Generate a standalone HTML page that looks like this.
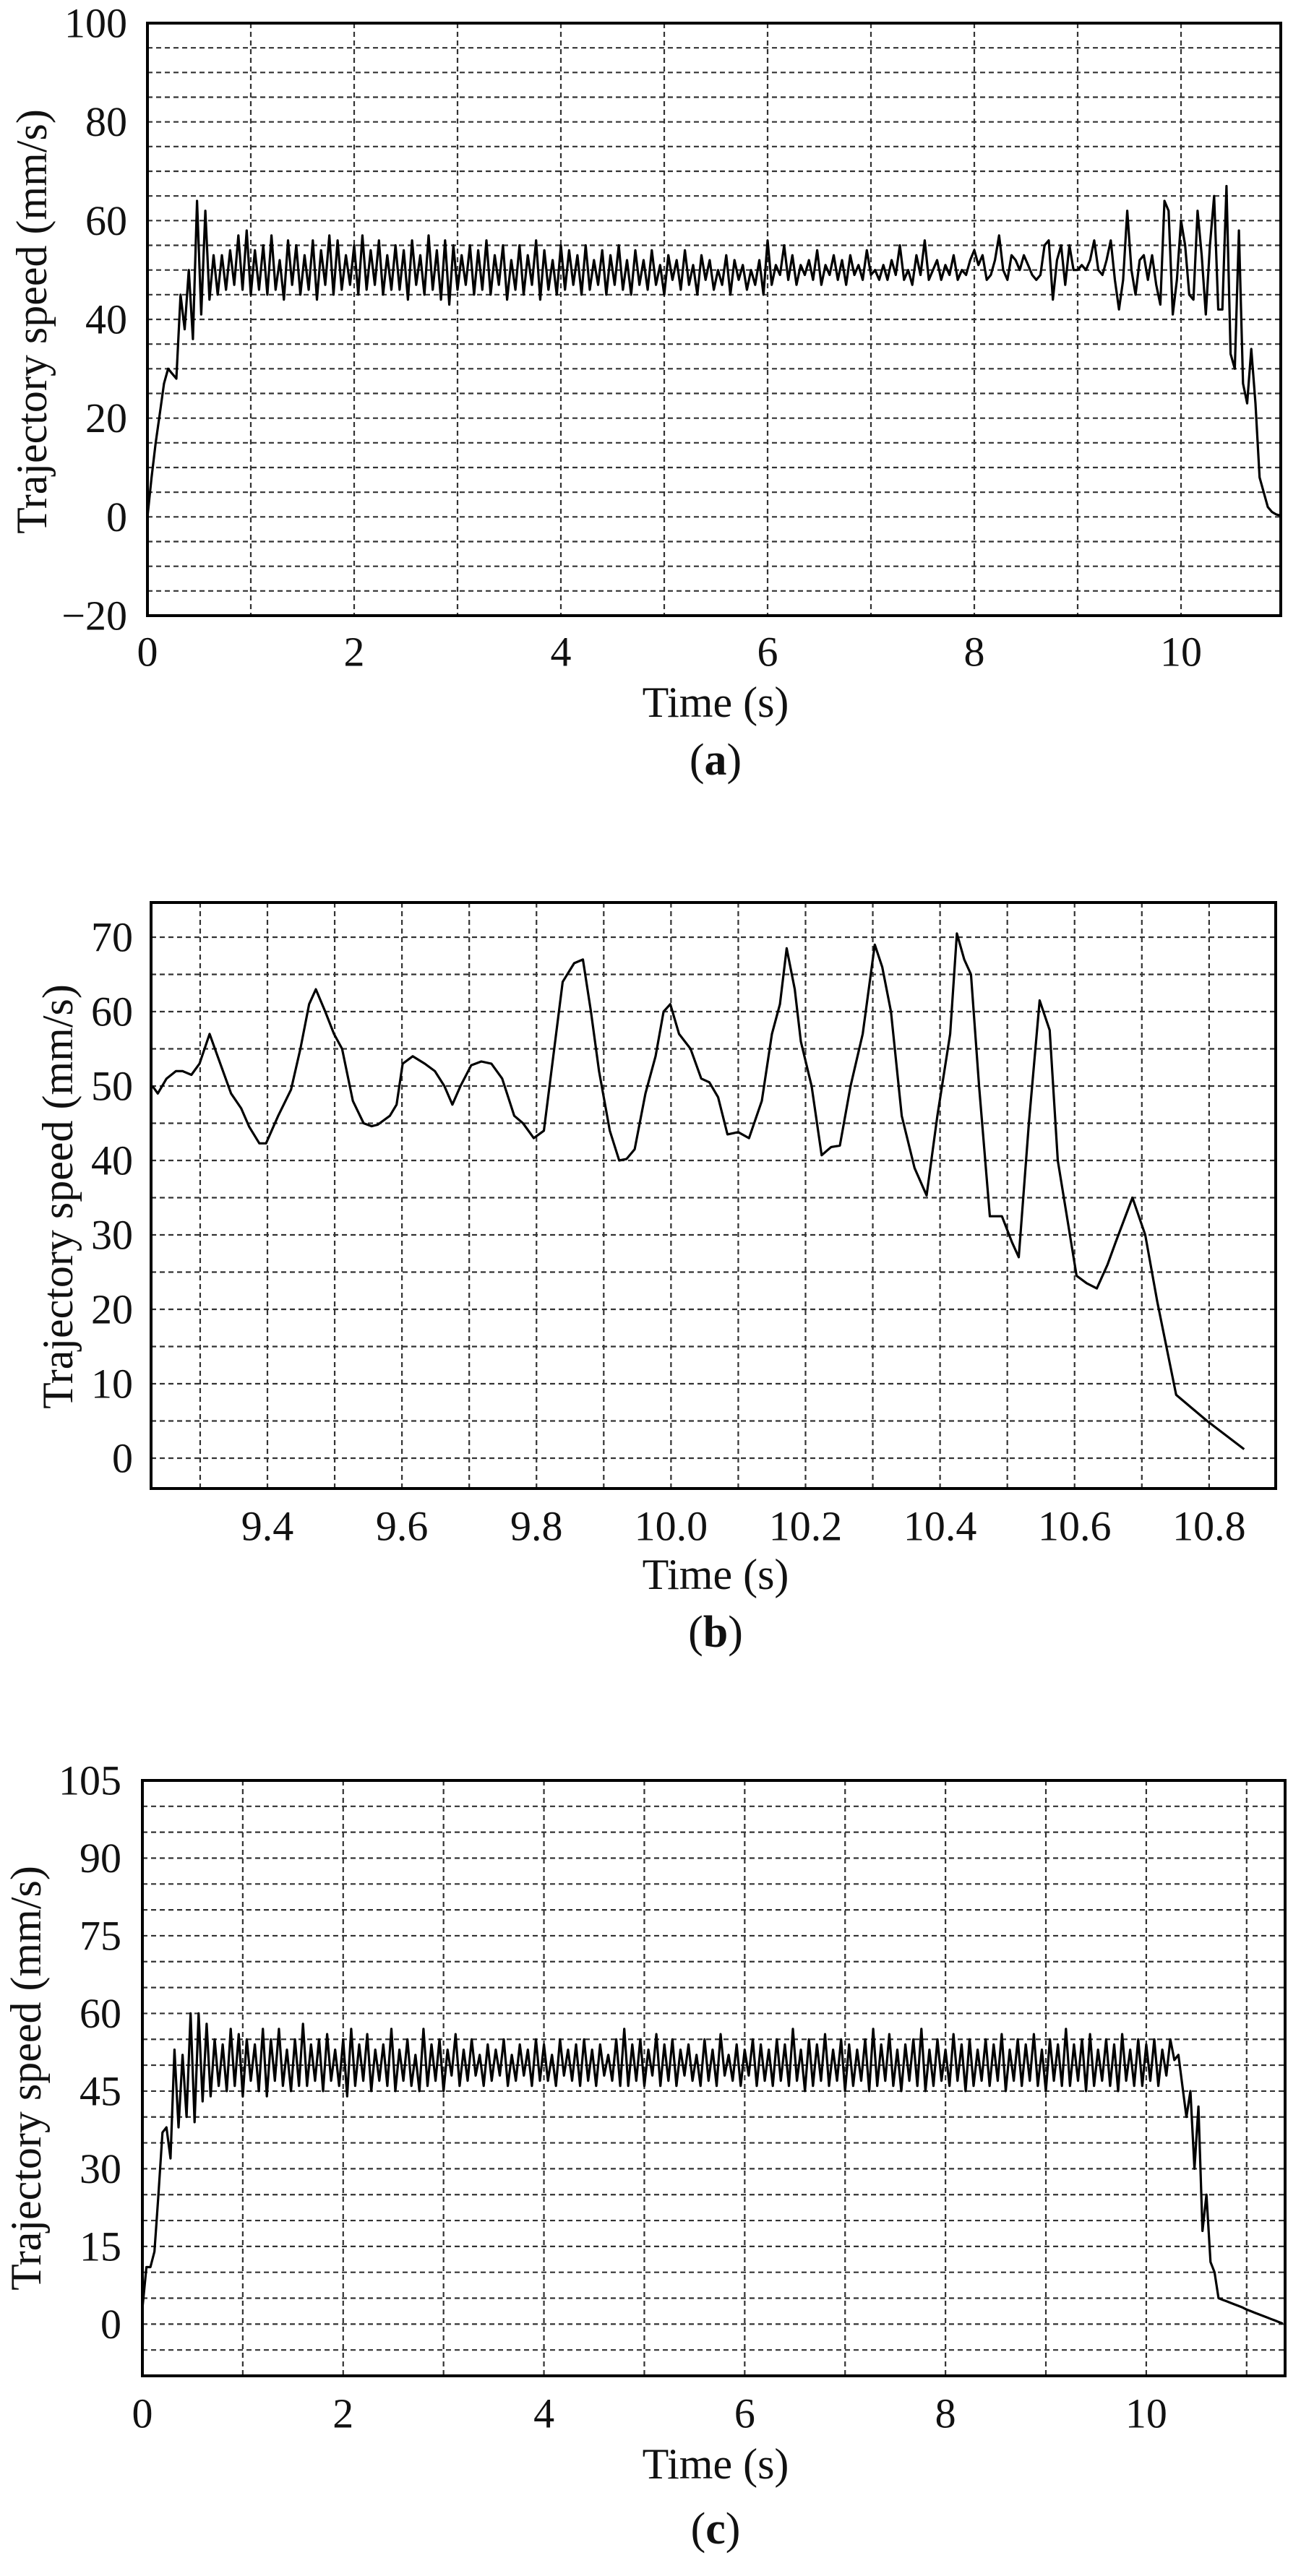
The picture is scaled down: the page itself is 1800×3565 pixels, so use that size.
<!DOCTYPE html>
<html><head><meta charset="utf-8"><style>
html,body{margin:0;padding:0;background:#fff;}
svg{display:block;}
text{font-family:"Liberation Serif",serif;fill:#111;}
</style></head><body>
<svg id="fig" width="1800" height="3565" viewBox="0 0 1800 3565" xmlns="http://www.w3.org/2000/svg"></svg>
<script>
// ---- Chart (a) data: sampled every 0.04 s from t=0 ----
const aStart = 0, aStep = 0.04;
const aSpeed = [0,8,15,21,27,30,29,28,45,38,
50,36,64,41,62,44,53,45,53,46,
54,47,57,46,58,45,54,46,55,45,
57,46,52,44,56,47,55,45,53,46,
56,44,54,47,57,45,56,46,53,47,
55,45,57,46,54,47,56,45,53,46,
55,46,54,44,56,47,53,45,57,46,
54,44,56,43,55,46,53,47,55,45,
54,46,56,45,53,47,55,44,52,46,
55,45,53,47,56,44,54,46,52,45,
55,46,54,47,53,45,55,46,52,47,
54,45,53,47,55,46,52,45,54,47,
52,46,54,47,51,45,53,48,52,46,
54,47,51,45,53,48,52,46,50,47,
53,45,52,48,51,46,50,47,52,45,
56,47,51,49,55,48,53,47,51,49,
52,48,54,47,51,49,53,48,52,47,
53,49,51,48,54,49,50,48,51,48,
52,49,55,48,50,47,53,49,56,48,
50,52,48,51,49,53,48,50,49,52,
54,51,53,48,49,52,57,50,48,53,
52,50,53,51,49,48,49,55,56,44,
52,55,47,55,50,50,51,50,52,56,
50,49,52,56,48,42,48,62,50,45,
52,53,48,53,47,43,64,62,41,48,
60,55,45,44,62,53,41,55,65,42,
42,67,33,30,58,27,23,34,23,8,
5,2,1,0.5,0.3];
const aXTicks = [0,2,4,6,8,10];
const aYTicks = [-20,0,20,40,60,80,100];

// ---- Chart (b) data ----
const bTime = [9.229,9.237,9.250,9.264,9.274,9.287,9.299,9.314,9.326,9.346,9.361,9.373,9.388,9.398,9.416,9.435,9.449,9.462,9.472,9.486,9.499,9.511,9.527,9.543,9.555,9.564,9.582,9.592,9.601,9.616,9.634,9.649,9.663,9.675,9.687,9.703,9.718,9.733,9.749,9.767,9.780,9.796,9.811,9.839,9.856,9.869,9.881,9.893,9.909,9.923,9.934,9.946,9.962,9.977,9.989,9.999,10.012,10.029,10.045,10.057,10.070,10.084,10.100,10.116,10.135,10.150,10.162,10.172,10.184,10.193,10.209,10.224,10.238,10.251,10.267,10.285,10.303,10.314,10.327,10.343,10.362,10.380,10.396,10.415,10.425,10.436,10.446,10.458,10.474,10.492,10.507,10.517,10.532,10.548,10.563,10.575,10.603,10.618,10.633,10.649,10.661,10.686,10.705,10.723,10.751,10.797,10.852];
const bSpeed = [50,49,51,52,52,51.5,53,57,54,49,47,44.5,42.3,42.3,46,49.5,55,61,63,60,57,55,48,45,44.6,44.8,46,47.5,53,54,53,52,50,47.5,50,52.8,53.3,53,51,46,45,43,44,64,66.5,67,60,52,44,40,40.2,41.5,49,54,60,61,57,55,51,50.5,48.5,43.5,43.8,43,48,57,61,68.5,63,56,50,40.7,41.8,42,50,57,69,66,60,46,39,35.3,46,57,70.5,67,65,50,32.5,32.5,29,27,45,61.5,57.5,40,24.5,23.5,22.8,26,29,35,30,21,8.5,5,1.2];
const bXTicks = [9.4,9.6,9.8,10.0,10.2,10.4,10.6,10.8];
const bYTicks = [0,10,20,30,40,50,60,70];

// ---- Chart (c) data: sampled every 0.04 s from t=0 ----
const cStart = 0, cStep = 0.04;
const cSpeed = [3,11,11,14,25,37,38,32,53,38,
52,40,60,39,60,43,58,44,55,46,
54,45,57,46,56,44,55,47,54,45,
57,44,55,47,57,46,53,45,55,46,
58,46,54,47,55,45,56,47,53,46,
55,44,57,46,54,47,56,45,53,47,
54,46,57,45,53,47,55,46,52,45,
57,46,54,47,55,45,53,48,56,46,
53,47,55,48,52,46,54,47,53,48,
55,46,52,47,54,48,53,46,55,47,
54,47,52,46,55,48,53,47,54,46,
55,47,53,46,54,48,52,47,55,46,
57,46,54,47,55,46,53,48,56,46,
54,47,55,46,53,48,54,47,52,46,
55,47,53,46,56,48,52,47,54,46,
53,48,55,46,54,47,53,46,55,47,
54,46,57,47,53,45,55,46,54,47,
56,46,53,47,55,45,54,46,53,47,
55,45,57,46,54,47,56,46,53,45,
54,47,55,46,57,45,53,46,55,47,
53,46,56,47,54,45,55,46,53,47,
55,46,54,47,56,45,53,47,55,46,
54,47,56,46,53,45,55,47,54,46,
57,46,54,47,55,45,56,46,53,47,
55,46,54,45,56,47,53,46,55,46,
54,47,55,46,53,48,55,51,52,46,
40,45,30,42,18,25,12,10,5,4.7,
4.4,4.1,3.8,3.5,3.2,2.8,2.5,2.2,1.9,1.6,
1.3,1.0,0.7,0.4,0.1];
const cXTicks = [0,2,4,6,8,10];
const cYTicks = [0,15,30,45,60,75,90,105];

const NS = "http://www.w3.org/2000/svg";
const fig = document.getElementById('fig');
function mk(tag, attrs, parent){
  const e = document.createElementNS(NS, tag);
  for (const k in attrs) e.setAttribute(k, attrs[k]);
  (parent||fig).appendChild(e);
  return e;
}
function fmtY(v){ return v < 0 ? '\u2212' + Math.abs(v) : String(v); }

function drawChart(cfg){
  const g = mk('g', {});
  
  
  const X = t => cfg.L + (t - cfg.x0) / (cfg.x1 - cfg.x0) * (cfg.R - cfg.L);
  const Y = v => cfg.B - (v - cfg.y0) / (cfg.y1 - cfg.y0) * (cfg.B - cfg.T);
  const gg = mk('g', {stroke:'#333','stroke-width':2.2,'stroke-dasharray':'7,5',fill:'none'}, g);
  
  
  for (let i = 0; ; i++){
    const t = cfg.gx0 + i * cfg.gxs; if (t > cfg.x1 - 1e-6) break;
    if (t <= cfg.x0 + 1e-6) continue;
    const l = mk('line', {x1:X(t), x2:X(t), y1:cfg.T, y2:cfg.B}, gg);
    
    
  }
  for (let i = 0; ; i++){
    const v = cfg.gy0 + i * cfg.gys; if (v > cfg.y1 - 1e-6) break;
    if (v <= cfg.y0 + 1e-6) continue;
    const l = mk('line', {x1:cfg.L, x2:cfg.R, y1:Y(v), y2:Y(v)}, gg);
    
    
  }
  let d = '';
  for (let i = 0; i < cfg.vals.length; i++){
    d += (i ? 'L' : 'M') + X(cfg.times(i)).toFixed(1) + ',' + Y(cfg.vals[i]).toFixed(1);
  }
  const p = mk('path', {d:d, fill:'none', stroke:'#000', 'stroke-width':3.2, 'stroke-linejoin':'round'}, g);
  
  
  const f = mk('rect', {x:cfg.L, y:cfg.T, width:cfg.R-cfg.L, height:cfg.B-cfg.T, fill:'none', stroke:'#000', 'stroke-width':4}, g);
  
  
  cfg.xt.forEach(t => {
    const e = mk('text', {x:X(t), y:cfg.xLabY, 'font-size':58, 'text-anchor':'middle', 'dominant-baseline':'central'}, g);
    
    
    e.textContent = cfg.xfmt(t);
  });
  cfg.yt.forEach(v => {
    const e = mk('text', {x:cfg.yLabR, y:Y(v), 'font-size':58, 'text-anchor':'end', 'dominant-baseline':'central'}, g);
    
    
    e.textContent = fmtY(v);
  });
  const xt = mk('text', {x:cfg.xTitleX, y:cfg.xTitleY, 'font-size':60, 'text-anchor':'middle', 'dominant-baseline':'central'}, g);
  
  
  xt.textContent = 'Time (s)';
  const yt = mk('text', {x:0, y:0, 'font-size':60, 'text-anchor':'middle', 'dominant-baseline':'central', transform:'translate(' + cfg.yTitleX + ',' + cfg.yTitleY + ') rotate(-90)'}, g);
  
  
  yt.textContent = 'Trajectory speed (mm/s)';
  const cap = mk('text', {x:cfg.xTitleX, y:cfg.capY, 'font-size':62, 'text-anchor':'middle', 'dominant-baseline':'central'}, g);
  
  
  cap.innerHTML = '(<tspan font-weight="bold">' + cfg.letter + '</tspan>)';
}

drawChart({name:'chart-a', L:204, R:1772, T:32, B:852, x0:0, x1:10.965, y0:-20, y1:100,
  gx0:0, gxs:1, gy0:-20, gys:5, vals:aSpeed, times:i => aStart + i*aStep,
  xt:aXTicks, yt:aYTicks, xfmt:t => String(t), xLabY:902, yLabR:176,
  xTitleX:990, xTitleY:972, yTitleX:44, yTitleY:445, capY:1052, letter:'a'});

drawChart({name:'chart-b', L:209, R:1765, T:1249, B:2060, x0:9.227, x1:10.899, y0:-4.08, y1:74.66,
  gx0:9.3, gxs:0.1, gy0:0, gys:5, vals:bSpeed, times:i => bTime[i],
  xt:bXTicks, yt:bYTicks, xfmt:t => t.toFixed(1), xLabY:2112, yLabR:184,
  xTitleX:990, xTitleY:2179, yTitleX:80, yTitleY:1656, capY:2259, letter:'b'});

drawChart({name:'chart-c', L:197, R:1778, T:2464, B:3288, x0:0, x1:11.383, y0:-10, y1:105,
  gx0:0, gxs:1, gy0:-10, gys:5, vals:cSpeed, times:i => cStart + i*cStep,
  xt:cXTicks, yt:cYTicks, xfmt:t => String(t), xLabY:3340, yLabR:168,
  xTitleX:990, xTitleY:3410, yTitleX:36, yTitleY:2876, capY:3500, letter:'c'});
</script>
</body></html>
